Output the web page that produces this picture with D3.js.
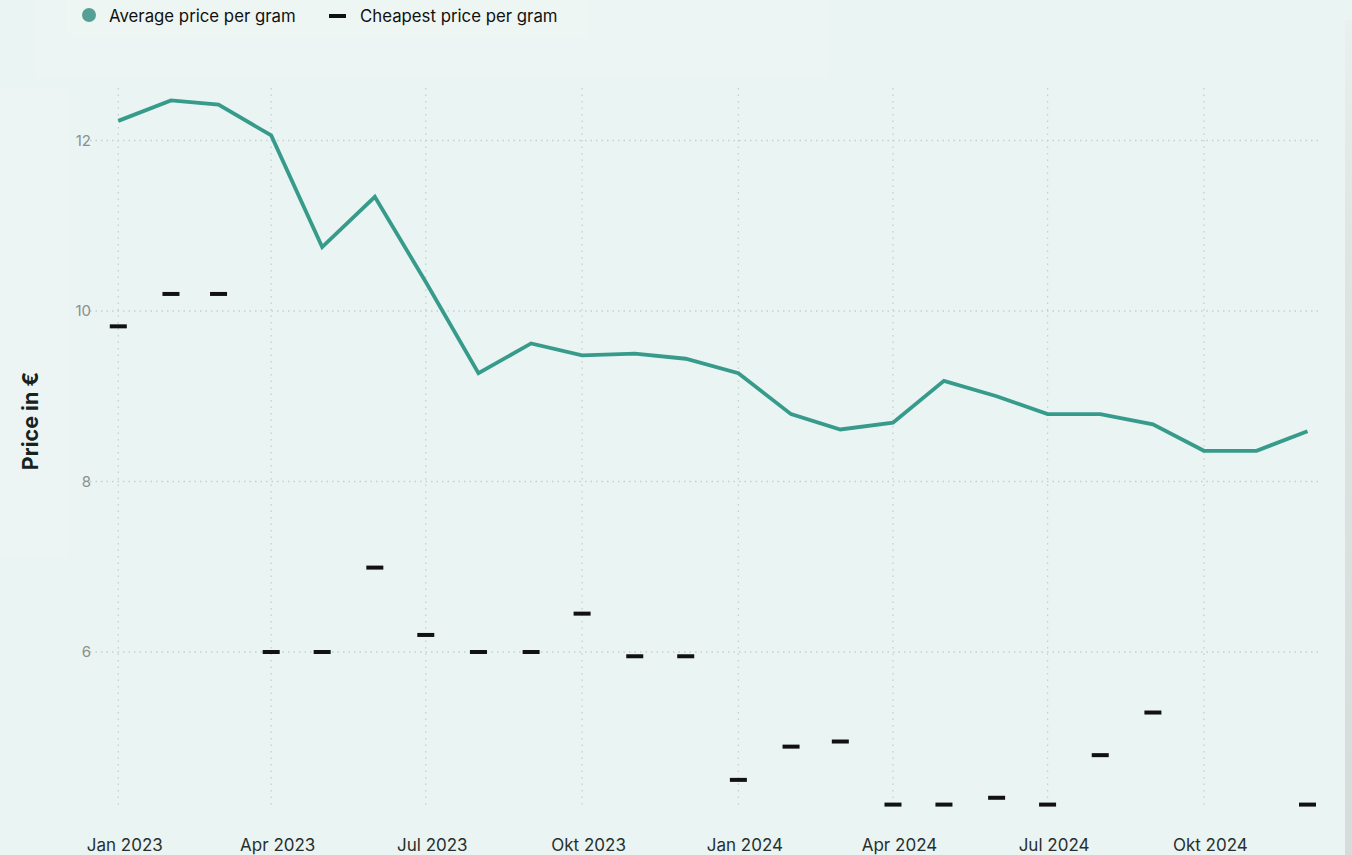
<!DOCTYPE html>
<meta charset="utf-8">
<body style="margin:0;background:#eaf4f2;">
<script src="https://cdn.jsdelivr.net/npm/d3@7"></script>
<script>

    // months Jan 2023 .. Dec 2024
    var months = ["2023-01","2023-02","2023-03","2023-04","2023-05","2023-06","2023-07","2023-08","2023-09","2023-10","2023-11","2023-12",
                  "2024-01","2024-02","2024-03","2024-04","2024-05","2024-06","2024-07","2024-08","2024-09","2024-10","2024-11","2024-12"];
    var avgPrice = [12.23, 12.47, 12.42, 12.06, 10.75, 11.34, 10.34, 9.27, 9.62, 9.48, 9.50, 9.44,
                    9.27, 8.79, 8.61, 8.69, 9.18, 9.00, 8.79, 8.79, 8.67, 8.36, 8.36, 8.59];
    var cheapestPrice = [9.82, 10.20, 10.20, 6.00, 6.00, 6.99, 6.20, 6.00, 6.00, 6.45, 5.95, 5.95,
                         4.50, 4.89, 4.95, 4.21, 4.21, 4.29, 4.21, 4.79, 5.29, null, null, 4.21];
    var yTicks = [6, 8, 10, 12];
    var monthNames = ["Jan","Feb","Mär","Apr","Mai","Jun","Jul","Aug","Sep","Okt","Nov","Dez"];

    var W = 1352, H = 855;
    var parse = d3.timeParse("%Y-%m");
    var data = months.map(function(m, i) {
        return {date: parse(m), avg: avgPrice[i], cheap: cheapestPrice[i]};
    });

    var x = d3.scaleTime()
              .domain([parse("2023-01"), parse("2024-12")])
              .range([118.3, 1307.5]);
    var y = d3.scaleLinear()
              .domain([4, 12])
              .range([822.5, 140.5]);

    var svg = d3.select("body").append("svg")
                .attr("width", W)
                .attr("height", H)
                .style("display", "block")
                .style("font-family", "Inter, 'Noto Sans', sans-serif");

    svg.append("rect").attr("width", W).attr("height", H).attr("fill", "#eaf4f2");

    // faint panels behind legend / axis title
    svg.append("rect").attr("x", 36).attr("y", 0).attr("width", 792).attr("height", 78).attr("fill", "#ecf5f3");
    svg.append("rect").attr("x", 66).attr("y", 0).attr("width", 522).attr("height", 38).attr("fill", "#eef6f4");
    svg.append("rect").attr("x", 0).attr("y", 88).attr("width", 68).attr("height", 470).attr("fill", "#ecf5f3");

    // right edge shade
    var grad = svg.append("defs").append("linearGradient")
                  .attr("id", "edge").attr("x1", 0).attr("y1", 0).attr("x2", 0).attr("y2", 1);
    grad.append("stop").attr("offset", "0%").attr("stop-color", "#e8f1ef");
    grad.append("stop").attr("offset", "30%").attr("stop-color", "#dde4e2");
    grad.append("stop").attr("offset", "100%").attr("stop-color", "#d6dcdb");
    svg.append("rect").attr("x", 1345).attr("y", 20).attr("width", 7).attr("height", H - 20).attr("fill", "url(#edge)");

    var xTicks = d3.timeMonth.every(3).range(parse("2023-01"), parse("2024-12"));

    // vertical gridlines
    svg.append("g").selectAll("line")
       .data(xTicks)
       .enter().append("line")
       .attr("x1", function(d) { return x(d); })
       .attr("x2", function(d) { return x(d); })
       .attr("y1", 88).attr("y2", 805)
       .attr("stroke", "#c6d0ce")
       .attr("stroke-width", 1.3)
       .attr("stroke-dasharray", "1.5,5");

    // horizontal gridlines
    svg.append("g").selectAll("line")
       .data(yTicks)
       .enter().append("line")
       .attr("x1", 90).attr("x2", 1318)
       .attr("y1", function(d) { return y(d); })
       .attr("y2", function(d) { return y(d); })
       .attr("stroke", "#c6d0ce")
       .attr("stroke-width", 1.3)
       .attr("stroke-dasharray", "1.5,4");

    // y axis labels
    var yAxis = svg.append("g")
       .attr("transform", "translate(100,0)")
       .call(d3.axisLeft(y).tickValues(yTicks).tickSize(0).tickPadding(9));
    yAxis.select(".domain").remove();
    yAxis.selectAll("text")
         .style("font-size", "15px")
         .style("font-family", "Inter, sans-serif")
         .attr("fill", "#8b908f");

    // x axis labels
    var xAxis = svg.append("g")
       .attr("transform", "translate(0,839)")
       .call(d3.axisBottom(x).tickValues(xTicks).tickSize(0).tickPadding(0)
               .tickFormat(function(d) { return monthNames[d.getMonth()] + " " + d.getFullYear(); }));
    xAxis.select(".domain").remove();
    xAxis.selectAll("text")
         .attr("dx", 6)
         .style("font-size", "17px")
         .style("font-family", "Inter, sans-serif")
         .attr("fill", "#27302d");

    // y axis title
    svg.append("text")
       .attr("transform", "translate(38,421) rotate(-90)")
       .attr("text-anchor", "middle")
       .style("font-size", "21.5px")
       .style("font-weight", "bold")
       .attr("fill", "#17231e")
       .text("Price in €");

    // average price line
    var line = d3.line()
                 .x(function(d) { return x(d.date); })
                 .y(function(d) { return y(d.avg); });
    svg.append("path")
       .datum(data)
       .attr("d", line)
       .attr("fill", "none")
       .attr("stroke", "#379b8c")
       .attr("stroke-width", 3.8)
       .attr("stroke-linejoin", "miter");

    // cheapest price markers
    svg.append("g").selectAll("rect")
       .data(data.filter(function(d) { return d.cheap != null; }))
       .enter().append("rect")
       .attr("x", function(d) { return x(d.date) - 8.5; })
       .attr("y", function(d) { return y(d.cheap) - 2; })
       .attr("width", 17)
       .attr("height", 4)
       .attr("fill", "#111");

    // legend
    var legend = svg.append("g");
    legend.append("circle").attr("cx", 89).attr("cy", 15).attr("r", 7).attr("fill", "#55a093");
    legend.append("text").attr("x", 109).attr("y", 22)
          .style("font-size", "16.8px").attr("fill", "#111")
          .text("Average price per gram");
    legend.append("rect").attr("x", 329).attr("y", 14).attr("width", 17).attr("height", 4).attr("fill", "#111");
    legend.append("text").attr("x", 360).attr("y", 22)
          .style("font-size", "16.8px").attr("fill", "#111")
          .text("Cheapest price per gram");

</script>
</body>
